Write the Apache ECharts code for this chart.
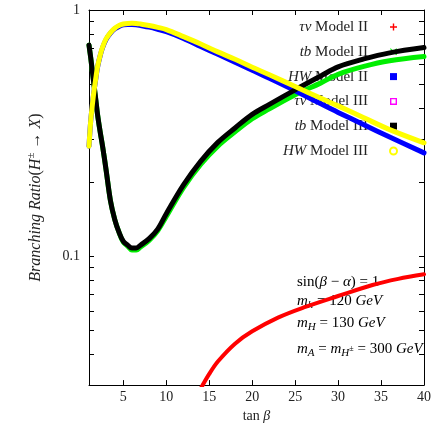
<!DOCTYPE html>
<html>
<head>
<meta charset="utf-8">
<script src="https://cdn.jsdelivr.net/npm/echarts@6/dist/echarts.min.js"></script>
<style>
html,body{margin:0;padding:0;background:#fff;}
#chart{width:434px;height:428px;}
</style>
</head>
<body>
<div id="chart"></div>
<script>
// tan(beta) grid for the main curves
const tanB = [1,1.2,1.4,1.6,1.8,2,2.3,2.6,3,3.5,4,4.5,5,5.5,6,6.5,7,8,9,10,12,14,16,18,20,22,25,28,30,33,36,40];
const tbModelIII = [0.72,0.64,0.56,0.49,0.43,0.375,0.32,0.277,0.223,0.168,0.141,0.125,0.115,0.111,0.108,0.108,0.111,0.118,0.129,0.149,0.195,0.243,0.29,0.332,0.377,0.414,0.474,0.54,0.588,0.633,0.67,0.704];
const tbModelII = [0.72,0.64,0.56,0.49,0.43,0.375,0.32,0.277,0.223,0.168,0.141,0.125,0.114,0.11,0.106,0.106,0.109,0.116,0.127,0.145,0.19,0.236,0.28,0.32,0.362,0.397,0.453,0.506,0.548,0.59,0.622,0.647];
const hwModelIII = [0.28,0.355,0.415,0.475,0.53,0.59,0.655,0.71,0.765,0.81,0.843,0.865,0.877,0.882,0.883,0.882,0.877,0.865,0.85,0.833,0.78,0.728,0.676,0.631,0.586,0.546,0.489,0.438,0.408,0.365,0.327,0.289];
const hwModelII = [0.28,0.355,0.415,0.473,0.528,0.587,0.652,0.706,0.76,0.805,0.838,0.858,0.87,0.874,0.874,0.871,0.865,0.852,0.835,0.816,0.767,0.711,0.661,0.613,0.569,0.528,0.47,0.416,0.384,0.342,0.305,0.263];
// tau-nu channel
const tauNuX = [14,15,16,18,20,23,26,30,34,37,40];
const tauNuModelII = [0.029,0.0333,0.0374,0.0442,0.0496,0.0564,0.062,0.069,0.0765,0.081,0.0845];
const tauNuModelIII = [];
// axis ticks
const xTicks = [5,10,15,20,25,30,35,40];
const yLabels = [0.1,1];
const yTicks = [0.04,0.05,0.06,0.07,0.08,0.09,0.1,0.2,0.3,0.4,0.5,0.6,0.7,0.8,0.9,1];

const pair = (xs, ys) => ys.map((v,i)=>[xs[i], v]);
const FONT = 'Liberation Serif';
const TXT = '#222';

const chart = echarts.init(document.getElementById('chart'), null, {renderer:'canvas'});

const xCommon = {
  type:'value', min:1, max:40,
  axisLine:{lineStyle:{color:'#000', width:1}},
  splitLine:{show:false},
  axisTick:{inside:true, length:5, customValues:xTicks, lineStyle:{color:'#000'}},
  axisLabel:{customValues:xTicks, fontFamily:FONT, fontSize:14, color:TXT, margin:5}
};
const yCommon = {
  type:'log', logBase:10, min:0.03, max:1,
  axisLine:{lineStyle:{color:'#000', width:1}},
  splitLine:{show:false}, minorSplitLine:{show:false},
  axisTick:{inside:true, length:5, customValues:yTicks, lineStyle:{color:'#000'}},
  axisLabel:{customValues:yLabels, fontFamily:FONT, fontSize:14, color:TXT, margin:9,
    formatter:(v)=> String(Math.round(v*10)/10)}
};

const rich = {
  i:{fontFamily:FONT, fontStyle:'italic', fontSize:15, color:TXT},
  n:{fontFamily:FONT, fontSize:15, color:TXT}
};
const richBig = {
  i:{fontFamily:FONT, fontStyle:'italic', fontSize:16, color:TXT},
  n:{fontFamily:FONT, fontSize:16, color:TXT},
  s:{fontFamily:FONT, fontSize:11, color:TXT, padding:[0,0,9,0]}
};
const sub = {fontFamily:FONT, fontStyle:'italic', fontSize:11, color:TXT, padding:[7,0,0,0]};
const sup = {fontFamily:FONT, fontSize:8, color:TXT, padding:[0,0,1,0]};

const legendNames = ['τν Model II','tb Model II','HW Model II','τν Model III','tb Model III','HW Model III'];

const curve = (name, xs, ys, color, w) => ({
  name:name, type:'line', data:pair(xs, ys), symbol:'none', smooth:0.35,
  lineStyle:{color:color, width:w, join:'round', cap:'round'}, itemStyle:{color:color}
});

const option = {
  animation:false,
  backgroundColor:'#fff',
  grid:{left:89, right:7, top:10, bottom:40, show:false},
  xAxis:[
    Object.assign({}, xCommon, {position:'bottom', name:'{n|tan }{i|β}', nameLocation:'middle', nameGap:23,
      nameTextStyle:{rich:{i:{fontFamily:FONT, fontStyle:'italic', fontSize:14, color:TXT}, n:{fontFamily:FONT, fontSize:14, color:TXT}}}}),
    Object.assign({}, xCommon, {position:'top', axisLabel:{show:false, customValues:xTicks}})
  ],
  yAxis:[
    Object.assign({}, yCommon, {position:'left', name:'{i|Branching Ratio}{n|(}{i|H}{s|±}{n| → }{i|X}{n|)}', nameLocation:'middle', nameGap:43,
      nameTextStyle:{rich:richBig}}),
    Object.assign({}, yCommon, {position:'right', axisLabel:{show:false, customValues:yLabels}})
  ],
  legend:{
    orient:'vertical', align:'right', right:36, top:19, itemGap:8.8, padding:0, z:1,
    itemWidth:7, itemHeight:7,
    textStyle:{fontFamily:FONT, fontSize:15, color:TXT, lineHeight:16, padding:[0,17,0,0], rich:rich},
    formatter:(name)=>{
      const p = name.split(' ');
      return '{i|'+p[0]+'}{n| '+p.slice(1).join(' ')+'}';
    },
    data:[
      {name:legendNames[0], icon:'path://M4,0h2v4h4v2h-4v4h-2v-4h-4v-2h4z'},
      {name:legendNames[1], icon:'path://M1,0L5,4L9,0L10,1L6,5L10,9L9,10L5,6L1,10L0,9L4,5L0,1z'},
      {name:legendNames[2], icon:'path://M2,2h6v6h-6z'},
      {name:legendNames[3], icon:'path://M0,0h10v10h-10z M2,2v6h6v-6z'},
      {name:legendNames[4], icon:'path://M0,0h10v10h-10z'},
      {name:legendNames[5], icon:'emptyCircle'}
    ]
  },
  series:[
    curve(legendNames[0], tauNuX, tauNuModelII, '#ff0000', 4),
    curve(legendNames[1], tanB, tbModelII, '#00ee00', 5),
    curve(legendNames[2], tanB, hwModelII, '#0000ff', 5),
    curve(legendNames[3], [], tauNuModelIII, '#ff00ff', 4),
    curve(legendNames[4], tanB, tbModelIII, '#000000', 5),
    curve(legendNames[5], tanB, hwModelIII, '#ffff00', 5)
  ],
  graphic:[
    {type:'text', left:297, top:275, z:1, style:{text:'{n|sin(}{i|β}{n| − }{i|α}{n|) = 1}', rich:rich}},
    {type:'text', left:297, top:294, z:1, style:{text:'{i|m}{sub|h}{n| = 120 }{i|GeV}', rich:Object.assign({sub:sub}, rich)}},
    {type:'text', left:297, top:316, z:1, style:{text:'{i|m}{sub|H}{n| = 130 }{i|GeV}', rich:Object.assign({sub:sub}, rich)}},
    {type:'text', left:297, top:342, z:1, style:{text:'{i|m}{sub|A}{n| = }{i|m}{sub|H}{sup|±}{n| = 300 }{i|GeV}', rich:Object.assign({sub:sub, sup:sup}, rich)}}
  ]
};
chart.setOption(option);
</script>
</body>
</html>
